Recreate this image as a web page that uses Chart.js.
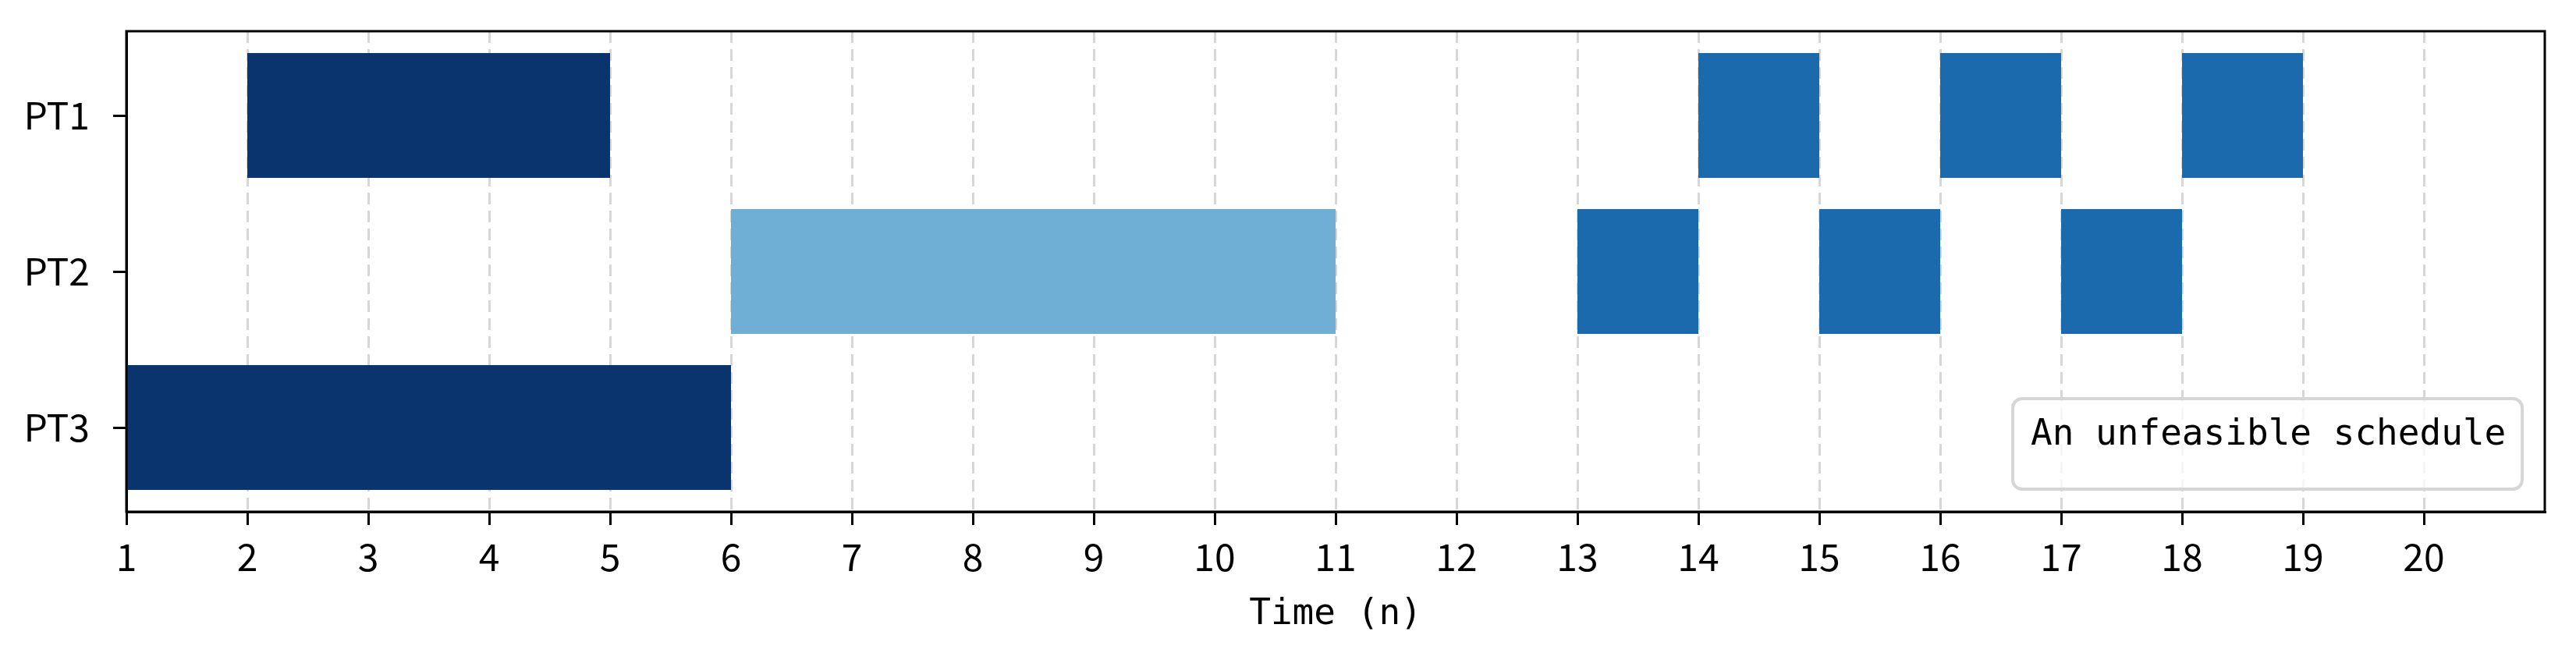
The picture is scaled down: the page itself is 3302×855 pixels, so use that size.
<!DOCTYPE html>
<html>
<head>
<meta charset="utf-8">
<title>An unfeasible schedule</title>
<script src="https://cdn.jsdelivr.net/npm/chart.js@4.4.1/dist/chart.umd.min.js"></script>
<style>
  body { margin: 0; background: #fff; }
  canvas { display: block; }
</style>
</head>
<body>
<canvas id="ganttCanvas" width="3302" height="855"></canvas>
<script>
// rows (top to bottom) and x ticks
var rowLabels = ['PT1', 'PT2', 'PT3'];
var xTicks = [1, 2, 3, 4, 5, 6, 7, 8, 9, 10, 11, 12, 13, 14, 15, 16, 17, 18, 19, 20];

// dark navy blocks
var darkRows = ['PT1', 'PT3'];
var darkStart = [2, 1];
var darkEnd = [5, 6];

// light blue block
var lightRows = ['PT2'];
var lightStart = [6];
var lightEnd = [11];

// medium blue unit blocks
var midRows = ['PT2', 'PT1', 'PT2', 'PT1', 'PT2', 'PT1'];
var midStart = [13, 14, 15, 16, 17, 18];
var midEnd = [14, 15, 16, 17, 18, 19];

var legendText = 'An unfeasible schedule';

function toBars(rows, starts, ends) {
    var out = [];
    for (var i in rows) {
        out.push({ x: [starts[i], ends[i]], y: rowLabels.indexOf(rows[i]) });
    }
    return out;
}

function barSet(label, rows, starts, ends, color) {
    return {
        label: label,
        data: toBars(rows, starts, ends),
        backgroundColor: color,
        borderWidth: 0,
        borderSkipped: false,
        grouped: false,
        barPercentage: 1,
        categoryPercentage: 0.8
    };
}

// box round the plot + the text box in the lower right
var framePlugin = {
    id: 'frame',
    afterDraw: function (chart) {
        var ctx = chart.ctx;
        var a = chart.chartArea;
        ctx.save();

        // legend-like box
        var w = 653, h = 116;
        var bx = a.right - 29 - w;
        var by = a.bottom - 29 - h;
        var r = 12;
        ctx.beginPath();
        ctx.moveTo(bx + r, by);
        ctx.arcTo(bx + w, by, bx + w, by + h, r);
        ctx.arcTo(bx + w, by + h, bx, by + h, r);
        ctx.arcTo(bx, by + h, bx, by, r);
        ctx.arcTo(bx, by, bx + w, by, r);
        ctx.closePath();
        ctx.fillStyle = 'rgba(255,255,255,0.8)';
        ctx.fill();
        ctx.lineWidth = 4;
        ctx.strokeStyle = '#d6d6d6';
        ctx.stroke();

        ctx.fillStyle = '#000';
        ctx.font = '46px "DejaVu Sans Mono"';
        ctx.textAlign = 'left';
        ctx.textBaseline = 'alphabetic';
        ctx.fillText(legendText, bx + 23, by + 59);

        // axes frame
        ctx.lineWidth = 3;
        ctx.strokeStyle = '#000';
        ctx.strokeRect(a.left, a.top, a.right - a.left, a.bottom - a.top);
        ctx.restore();
    }
};

Chart.defaults.color = '#000';

var ganttChart = new Chart(document.getElementById('ganttCanvas'), {
    type: 'bar',
    data: {
        datasets: [
            barSet('dark', darkRows, darkStart, darkEnd, 'rgb(9,52,110)'),
            barSet('light', lightRows, lightStart, lightEnd, 'rgb(111,175,214)'),
            barSet('mid', midRows, midStart, midEnd, 'rgb(27,106,174)')
        ]
    },
    options: {
        indexAxis: 'y',
        responsive: false,
        devicePixelRatio: 1,
        animation: false,
        layout: { padding: { left: 0, right: 40, top: 40, bottom: 39 } },
        plugins: {
            legend: { display: false },
            tooltip: { enabled: false }
        },
        scales: {
            x: {
                type: 'linear',
                min: 1,
                max: 21,
                z: 1,
                afterBuildTicks: function (scale) {
                    scale.ticks = xTicks.map(function (v) { return { value: v }; });
                },
                afterFit: function (scale) {
                    scale.height = 160;
                    scale.paddingLeft = 0;
                    scale.paddingRight = 0;
                },
                ticks: {
                    autoSkip: false,
                    maxRotation: 0,
                    padding: 12,
                    font: { family: '"Noto Sans CJK SC"', size: 48 },
                    callback: function (v) { return String(v); }
                },
                grid: {
                    color: 'rgba(176,176,176,0.5)',
                    lineWidth: 3,
                    tickColor: '#000',
                    tickWidth: 3,
                    tickLength: 17,
                    tickBorderDash: []
                },
                border: { display: true, color: '#000', width: 3, dash: [15, 8] },
                title: {
                    display: true,
                    text: 'Time (n)',
                    padding: { top: 0, bottom: 0 },
                    font: { family: '"DejaVu Sans Mono"', size: 46 }
                }
            },
            y: {
                type: 'linear',
                reverse: true,
                offset: false,
                min: -0.54,
                max: 2.54,
                afterBuildTicks: function (scale) {
                    scale.ticks = rowLabels.map(function (_, i) { return { value: i }; });
                },
                afterFit: function (scale) {
                    scale.width = 162;
                    scale.paddingTop = 0;
                    scale.paddingBottom = 0;
                },
                ticks: {
                    padding: 30,
                    font: { family: '"Noto Sans CJK SC"', size: 48 },
                    callback: function (v) { return rowLabels[v]; }
                },
                grid: {
                    offset: false,
                    drawOnChartArea: false,
                    color: '#000',
                    lineWidth: 3,
                    tickLength: 17
                },
                border: { display: true, color: '#000', width: 3 }
            }
        }
    },
    plugins: [framePlugin]
});
</script>
</body>
</html>
